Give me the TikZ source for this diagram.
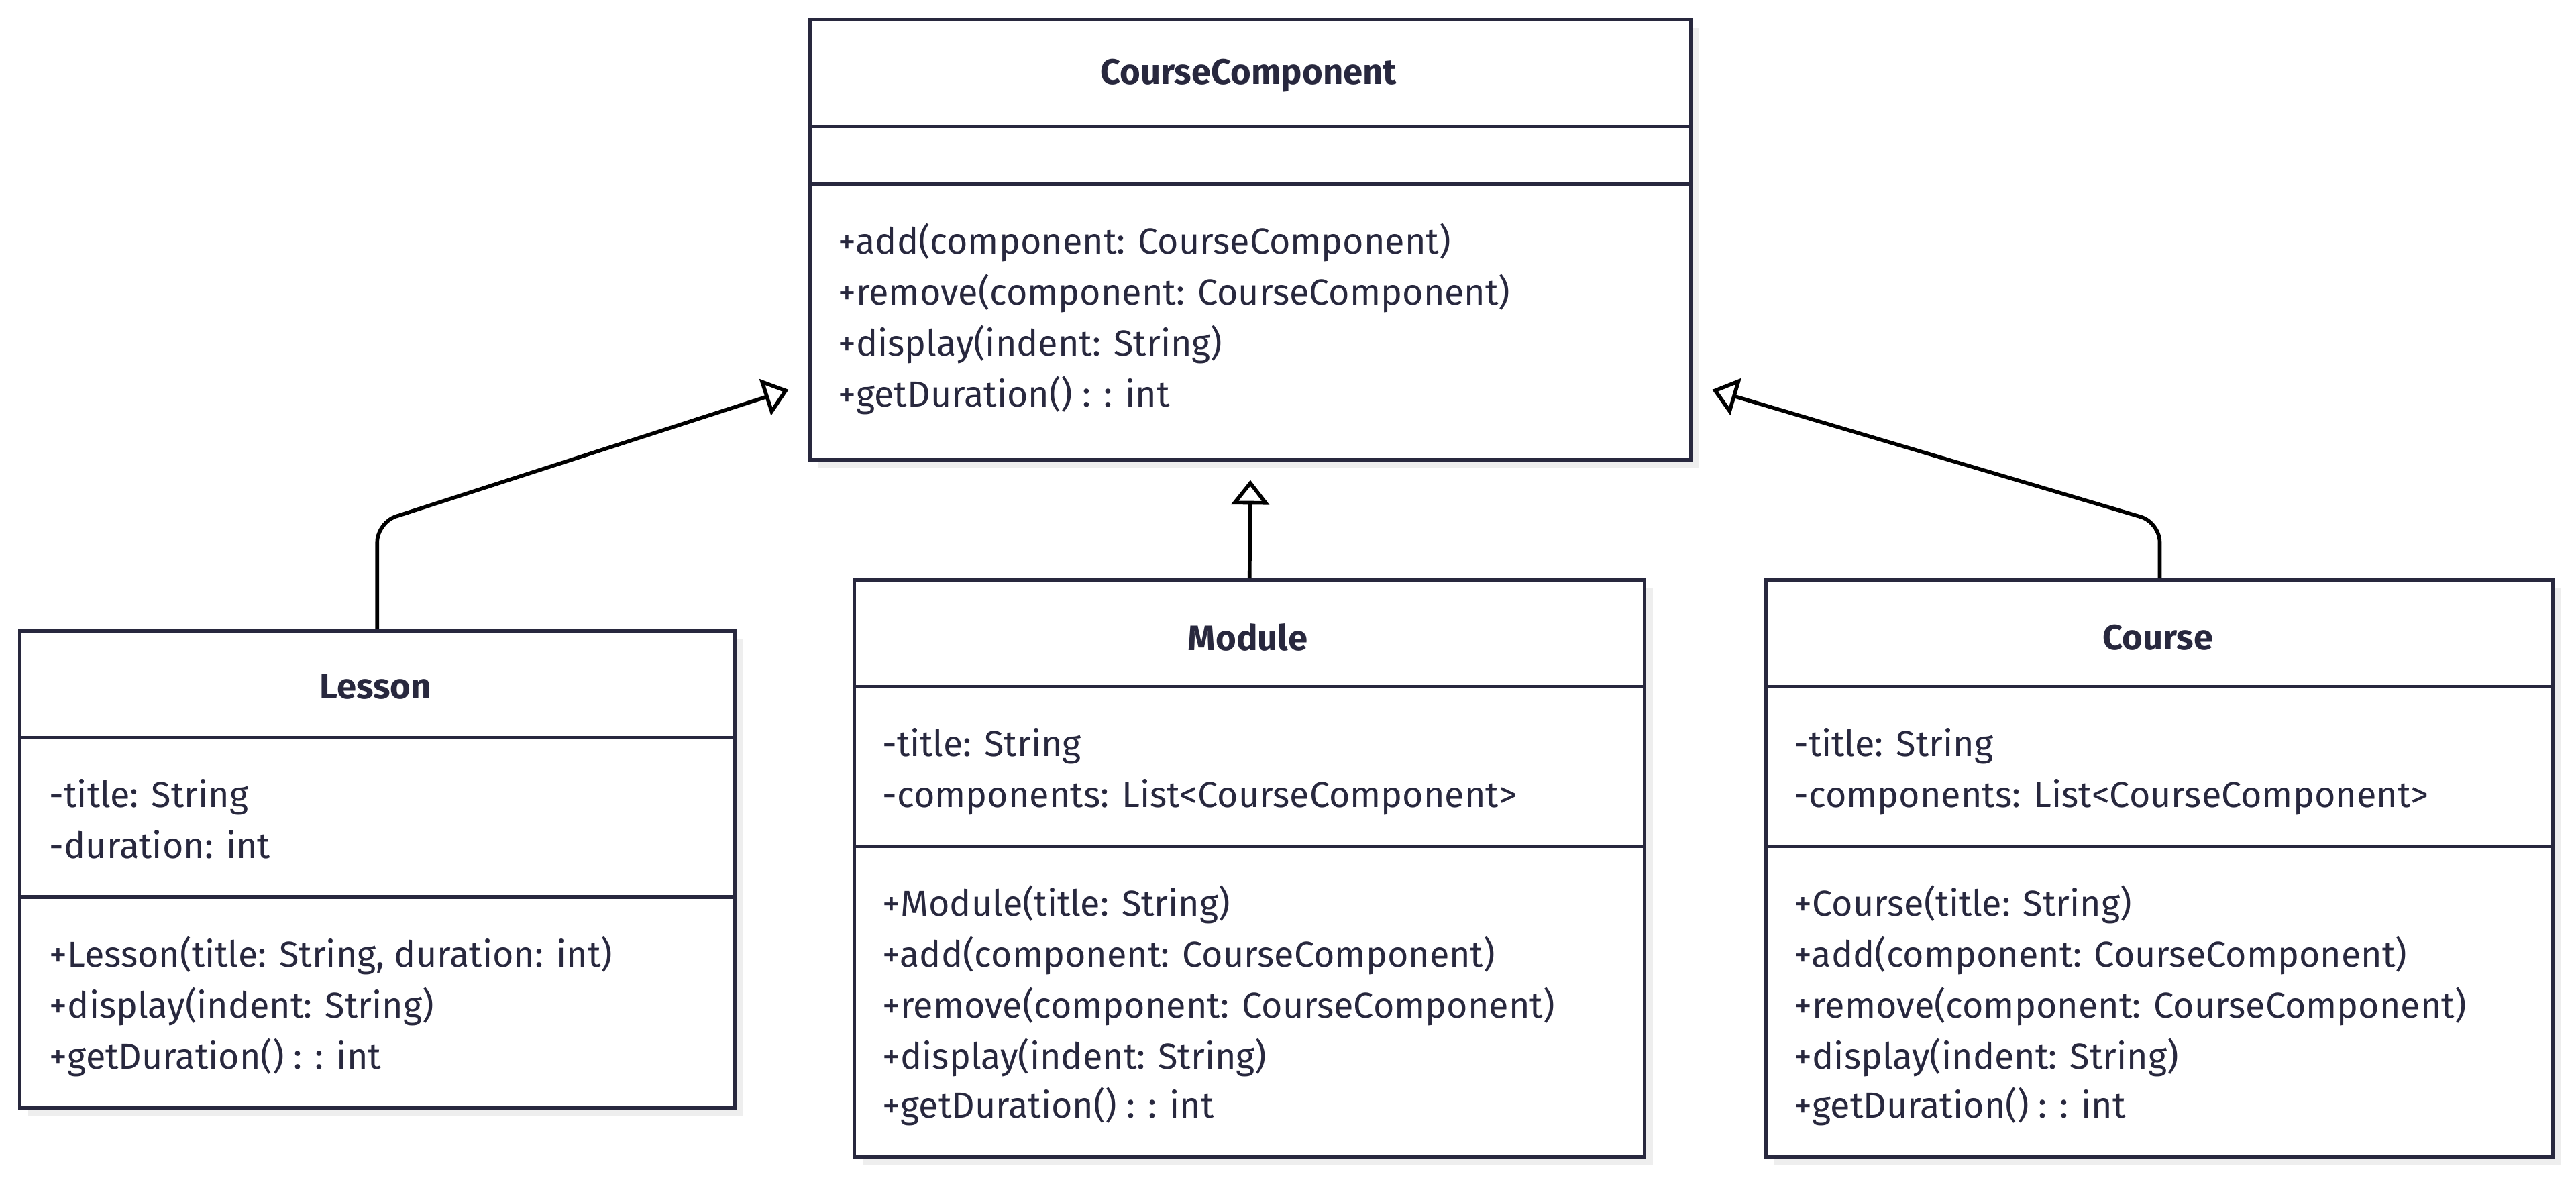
\documentclass[tikz,border=0pt]{standalone}
\usepackage{fontspec}
\setmainfont{Fira Sans}
\usetikzlibrary{arrows.meta,positioning}
\definecolor{umlink}{RGB}{40,40,62}
\definecolor{umlshadow}{RGB}{238,238,238}

\begin{document}
\begin{tikzpicture}[x=1pt,y=-1pt,
    classbox/.style={draw=umlink, line width=2.2pt, fill=white, anchor=north west, inner sep=0pt},
    divider/.style={draw=umlink, line width=2.2pt},
    classname/.style={font=\bfseries\fontsize{21.5}{25}\selectfont, text=umlink, inner sep=0pt},
    member/.style={font=\fontsize{22}{26}\selectfont, text=umlink, anchor=west, inner sep=0pt, text height=15pt, text depth=0pt},
    inherits/.style={draw=black, line width=2.3pt, rounded corners=12pt, -{Triangle[open, length=15pt, width=23pt, fill=white]}}]
    \useasboundingbox (0,0) rectangle (1568,718);

    % shadows
    \fill[umlshadow] (498,17) rectangle ++(536,268);
    \fill[umlshadow] (17,389) rectangle ++(435,290);
    \fill[umlshadow] (525,358) rectangle ++(481,351);
    \fill[umlshadow] (1080,358) rectangle ++(479,351);

    % CourseComponent
    \node[classbox, minimum width=536pt, minimum height=268pt] (cc) at (492,11) {};
    \draw[divider] (492,77) -- (1028,77);
    \draw[divider] (492,112) -- (1028,112);
    \node[classname] (ccname) at (760,46) {CourseComponent};
    \node[member] (ccm1) at (510,147) {+add(component: CourseComponent)};
    \node[member] (ccm2) at (510,178) {+remove(component: CourseComponent)};
    \node[member] (ccm3) at (510,209) {+display(indent: String)};
    \node[member] (ccm4) at (510,240) {+getDuration() : : int};

    % Lesson
    \node[classbox, minimum width=435pt, minimum height=290pt] (lesson) at (11,383) {};
    \draw[divider] (11,449) -- (446,449);
    \draw[divider] (11,546) -- (446,546);
    \node[classname] (lessonname) at (228.5,418) {Lesson};
    \node[member] (lessona1) at (30,484) {-title: String};
    \node[member] (lessona2) at (30,515) {-duration: int};
    \node[member] (lessonm1) at (30,581) {+Lesson(title: String, duration: int)};
    \node[member] (lessonm2) at (30,612) {+display(indent: String)};
    \node[member] (lessonm3) at (30,643) {+getDuration() : : int};

    % Module
    \node[classbox, minimum width=481pt, minimum height=351pt] (module) at (519,352) {};
    \draw[divider] (519,418) -- (1000,418);
    \draw[divider] (519,515) -- (1000,515);
    \node[classname] (modulename) at (759.5,388) {Module};
    \node[member] (modulea1) at (537,453) {-title: String};
    \node[member] (modulea2) at (537,484) {-components: List<CourseComponent>};
    \node[member] (modulem1) at (537,550) {+Module(title: String)};
    \node[member] (modulem2) at (537,581) {+add(component: CourseComponent)};
    \node[member] (modulem3) at (537,612) {+remove(component: CourseComponent)};
    \node[member] (modulem4) at (537,643) {+display(indent: String)};
    \node[member] (modulem5) at (537,673) {+getDuration() : : int};

    % Course
    \node[classbox, minimum width=479pt, minimum height=351pt] (course) at (1074,352) {};
    \draw[divider] (1074,418) -- (1553,418);
    \draw[divider] (1074,515) -- (1553,515);
    \node[classname] (coursename) at (1313.5,388) {Course};
    \node[member] (coursea1) at (1092,453) {-title: String};
    \node[member] (coursea2) at (1092,484) {-components: List<CourseComponent>};
    \node[member] (coursem1) at (1092,550) {+Course(title: String)};
    \node[member] (coursem2) at (1092,581) {+add(component: CourseComponent)};
    \node[member] (coursem3) at (1092,612) {+remove(component: CourseComponent)};
    \node[member] (coursem4) at (1092,643) {+display(indent: String)};
    \node[member] (coursem5) at (1092,673) {+getDuration() : : int};

    % inheritance
    \coordinate (ccleft) at ([xshift=-12pt,yshift=44pt]cc.south west);
    \coordinate (ccright) at ([xshift=12pt,yshift=44pt]cc.south east);
    \draw[inherits] (lesson.north) -- ++(0,-65) -- (ccleft);
    \draw[inherits] (module.north) -- ([yshift=-11pt]cc.south);
    \draw[inherits] (course.north) -- ++(0,-34) -- (ccright);
\end{tikzpicture}
\end{document}
